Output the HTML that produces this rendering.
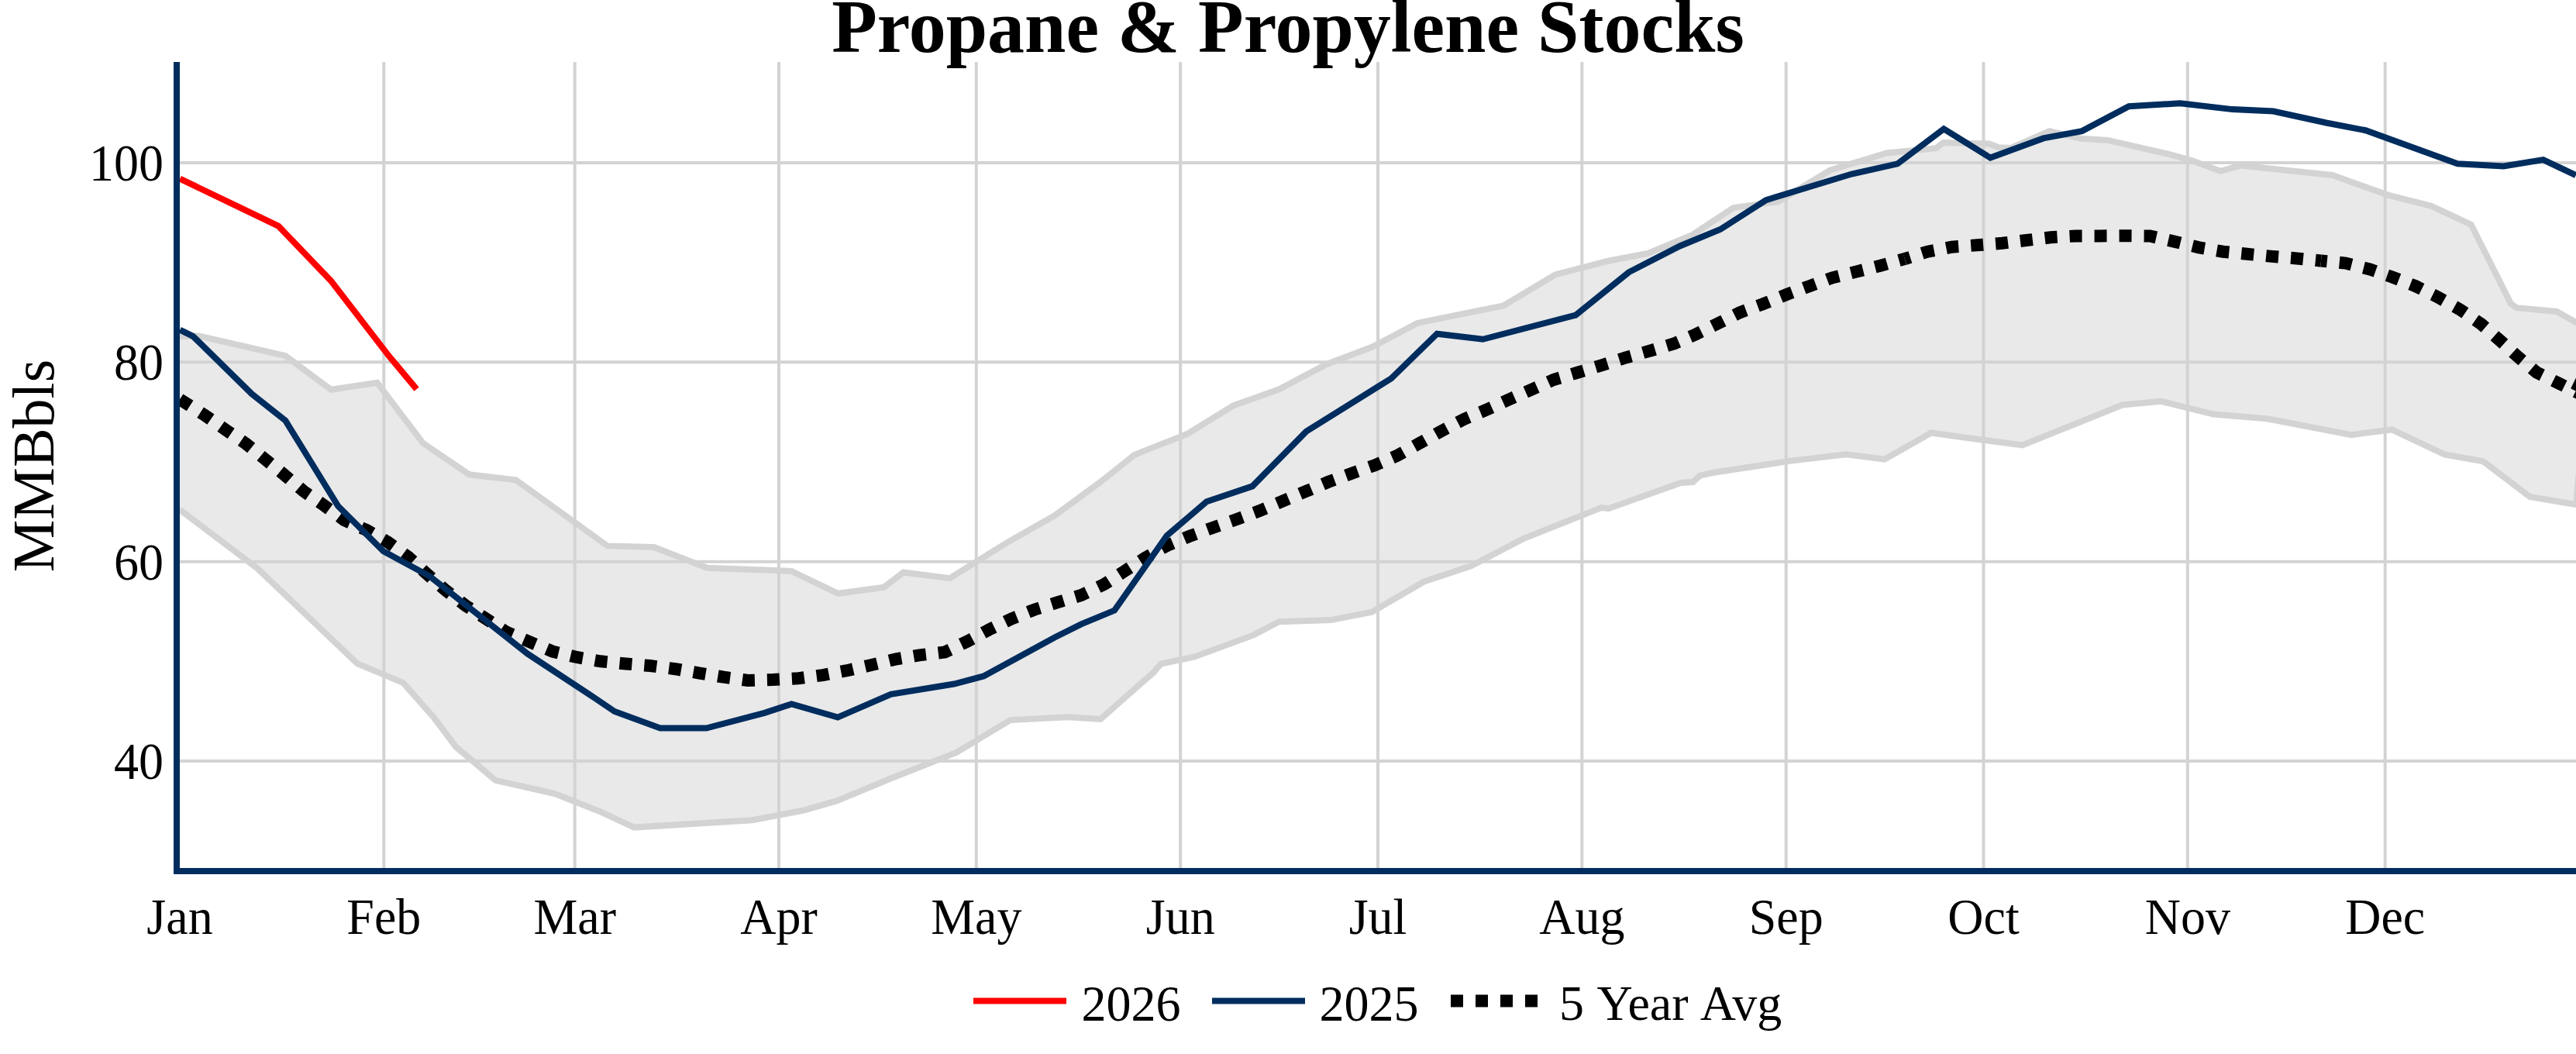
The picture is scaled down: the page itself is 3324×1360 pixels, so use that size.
<!DOCTYPE html><html><head><meta charset="utf-8"><title>Propane &amp; Propylene Stocks</title>
<style>html,body{margin:0;padding:0;background:#fff;overflow:hidden}svg{display:block}text{font-family:"Liberation Serif","Times New Roman",Times,serif;fill:#000}</style></head><body>
<svg width="3324" height="1360" viewBox="0 0 3324 1360">
<rect width="3324" height="1360" fill="#fff"/>
<defs><clipPath id="c"><rect x="232" y="80" width="3092" height="1040"/></clipPath></defs>
<g stroke="#d3d3d3" stroke-width="4"><line x1="495.3" x2="495.3" y1="80" y2="1120"/><line x1="741.7" x2="741.7" y1="80" y2="1120"/><line x1="1005.0" x2="1005.0" y1="80" y2="1120"/><line x1="1259.8" x2="1259.8" y1="80" y2="1120"/><line x1="1523.2" x2="1523.2" y1="80" y2="1120"/><line x1="1778.0" x2="1778.0" y1="80" y2="1120"/><line x1="2041.3" x2="2041.3" y1="80" y2="1120"/><line x1="2304.7" x2="2304.7" y1="80" y2="1120"/><line x1="2559.5" x2="2559.5" y1="80" y2="1120"/><line x1="2822.8" x2="2822.8" y1="80" y2="1120"/><line x1="3077.7" x2="3077.7" y1="80" y2="1120"/><line x1="232" x2="3324" y1="982.0" y2="982.0"/><line x1="232" x2="3324" y1="724.7" y2="724.7"/><line x1="232" x2="3324" y1="467.3" y2="467.3"/><line x1="232" x2="3324" y1="210.0" y2="210.0"/></g>
<g clip-path="url(#c)" fill="none" stroke-linejoin="miter" stroke-miterlimit="4">
<polygon points="232.0,434.3 257.0,433.5 368.5,459.2 427.2,502.7 486.8,493.9 546.1,572.1 605.6,612.3 665.7,619.3 783.8,704.4 843.9,706.0 912.3,732.7 1000.0,736.0 1021.2,736.9 1081.5,765.8 1140.6,757.8 1165.8,738.5 1225.6,746.2 1300.3,699.6 1360.9,665.3 1420.1,621.8 1463.8,586.9 1532.2,559.8 1591.4,523.4 1650.5,502.3 1711.2,470.2 1770.3,447.8 1829.4,416.7 1939.9,394.4 2006.8,354.5 2075.2,336.7 2126.5,327.0 2184.0,302.9 2236.9,268.0 2294.5,260.2 2361.4,219.8 2434.5,197.4 2498.3,191.2 2507.6,184.0 2566.7,185.6 2579.2,190.2 2594.7,190.9 2644.5,169.1 2685.0,178.7 2719.7,180.9 2796.8,198.5 2827.9,207.0 2865.2,220.8 2890.8,213.6 3009.7,226.0 3081.3,251.6 3137.3,265.9 3188.6,289.8 3240.0,391.9 3247.8,397.2 3299.1,401.9 3324.0,415.9 3330.0,420.0 3332.8,551.0 3324.3,651.1 3264.4,641.0 3204.2,595.2 3154.3,586.4 3086.6,554.3 3034.3,561.1 2925.4,540.2 2856.3,534.6 2788.5,517.8 2738.7,522.5 2609.6,574.5 2524.0,563.0 2491.9,558.5 2431.9,592.7 2382.1,586.2 2309.0,594.9 2211.0,609.8 2193.8,613.6 2184.5,622.0 2169.0,622.9 2075.6,656.2 2066.3,655.0 1965.1,695.4 1898.2,730.3 1837.6,750.5 1770.1,789.8 1717.2,800.1 1650.3,802.3 1617.7,819.4 1541.4,847.4 1497.9,856.7 1488.5,867.6 1420.0,928.0 1378.1,925.2 1303.7,929.1 1233.7,971.1 1151.2,1003.8 1079.6,1033.4 1036.1,1045.8 970.7,1058.3 818.3,1067.6 774.7,1047.4 715.6,1024.0 639.3,1006.9 588.0,963.4 560.0,926.0 520.3,881.1 461.2,856.3 332.0,733.3 232.0,657.7" fill="rgba(211,211,211,0.5)" stroke="none"/>
<polyline points="232.0,657.7 332.0,733.3 461.2,856.3 520.3,881.1 560.0,926.0 588.0,963.4 639.3,1006.9 715.6,1024.0 774.7,1047.4 818.3,1067.6 970.7,1058.3 1036.1,1045.8 1079.6,1033.4 1151.2,1003.8 1233.7,971.1 1303.7,929.1 1378.1,925.2 1420.0,928.0 1488.5,867.6 1497.9,856.7 1541.4,847.4 1617.7,819.4 1650.3,802.3 1717.2,800.1 1770.1,789.8 1837.6,750.5 1898.2,730.3 1965.1,695.4 2066.3,655.0 2075.6,656.2 2169.0,622.9 2184.5,622.0 2193.8,613.6 2211.0,609.8 2309.0,594.9 2382.1,586.2 2431.9,592.7 2491.9,558.5 2524.0,563.0 2609.6,574.5 2738.7,522.5 2788.5,517.8 2856.3,534.6 2925.4,540.2 3034.3,561.1 3086.6,554.3 3154.3,586.4 3204.2,595.2 3264.4,641.0 3324.3,651.1 3332.8,551.0" stroke="#d3d3d3" stroke-width="8"/>
<polyline points="232.0,434.3 257.0,433.5 368.5,459.2 427.2,502.7 486.8,493.9 546.1,572.1 605.6,612.3 665.7,619.3 783.8,704.4 843.9,706.0 912.3,732.7 1000.0,736.0 1021.2,736.9 1081.5,765.8 1140.6,757.8 1165.8,738.5 1225.6,746.2 1300.3,699.6 1360.9,665.3 1420.1,621.8 1463.8,586.9 1532.2,559.8 1591.4,523.4 1650.5,502.3 1711.2,470.2 1770.3,447.8 1829.4,416.7 1939.9,394.4 2006.8,354.5 2075.2,336.7 2126.5,327.0 2184.0,302.9 2236.9,268.0 2294.5,260.2 2361.4,219.8 2434.5,197.4 2498.3,191.2 2507.6,184.0 2566.7,185.6 2579.2,190.2 2594.7,190.9 2644.5,169.1 2685.0,178.7 2719.7,180.9 2796.8,198.5 2827.9,207.0 2865.2,220.8 2890.8,213.6 3009.7,226.0 3081.3,251.6 3137.3,265.9 3188.6,289.8 3240.0,391.9 3247.8,397.2 3299.1,401.9 3324.0,415.9 3330.0,420.0" stroke="#d3d3d3" stroke-width="8"/>
<polyline points="232.0,515.2 265.5,536.6 291.7,555.0 317.6,572.7 342.5,592.9 367.1,612.8 392.0,634.0 418.0,652.0 444.0,671.0 473.4,684.2 500.8,699.7 527.2,719.0 549.8,739.6 574.7,761.4 601.2,781.6 627.6,798.7 653.7,815.6 683.2,828.2 712.8,840.5 744.0,848.0 775.0,853.3 807.7,856.5 838.8,859.0 871.5,863.2 902.6,868.6 933.7,873.7 964.8,877.9 997.5,877.0 1030.5,875.2 1061.9,871.1 1093.0,865.2 1124.6,858.0 1155.3,850.6 1186.4,845.3 1219.2,841.5 1248.3,827.5 1276.3,812.4 1305.0,798.5 1334.5,786.7 1364.1,777.4 1395.2,768.0 1424.7,754.0 1451.2,736.9 1477.6,719.8 1505.6,704.2 1535.2,691.8 1564.8,680.9 1595.9,670.0 1625.4,659.1 1655.0,646.7 1684.6,634.2 1714.1,621.8 1743.7,610.9 1774.8,600.0 1803.0,587.8 1831.0,572.3 1859.0,556.7 1888.5,541.2 1918.1,528.7 1947.6,515.3 1977.2,502.3 2005.2,489.8 2036.3,480.5 2067.4,471.1 2098.6,461.2 2129.7,452.5 2160.8,443.1 2188.0,431.5 2216.7,417.4 2244.7,403.4 2274.3,392.5 2305.4,380.0 2334.9,369.2 2364.5,358.3 2395.6,350.5 2426.7,342.7 2457.8,334.0" stroke="#000" stroke-width="16" stroke-dasharray="16,16" stroke-dashoffset="0.40"/>
<polyline points="2457.8,334.0 2487.4,324.7 2518.5,318.7 2551.2,316.3 2583.9,313.8 2615.0,310.0 2646.1,306.3 2678.8,304.4 2709.9,304.4 2742.5,304.2 2774.2,304.5 2805.3,311.6 2836.4,319.1 2868.4,324.7 2899.6,327.8 2931.9,330.9 2963.9,333.4 2995.0,336.5" stroke="#000" stroke-width="16" stroke-dasharray="16,16" stroke-dashoffset="8.55"/>
<polyline points="2995.0,336.5 3026.8,339.6 3057.9,347.4 3087.5,357.7 3117.0,369.2 3146.0,383.5 3174.4,399.5 3201.7,418.2 3225.7,439.1 3249.0,460.3 3273.1,480.5 3301.6,494.5 3330.1,508.5 3345.0,515.8" stroke="#000" stroke-width="16" stroke-dasharray="16,16" stroke-dashoffset="8.18"/>
<rect x="-8" y="-8" width="16" height="16" fill="#000" stroke="none" transform="translate(3327.9,497.7) rotate(26.1)"/>
<polyline points="232.2,425.6 249.0,433.8 324.8,508.2 368.3,542.7 436.3,653.0 494.8,711.3 554.5,743.6 680.9,843.7 760.2,895.8 793.0,918.0 851.8,939.5 911.5,939.5 986.6,919.9 1021.4,908.4 1081.0,925.6 1149.5,895.8 1231.2,882.5 1269.3,872.4 1360.9,822.5 1395.2,805.4 1438.1,787.6 1505.6,691.2 1557.0,647.3 1616.1,627.4 1685.6,556.7 1795.2,488.3 1854.3,430.7 1913.4,437.8 2033.2,406.7 2101.7,351.3 2167.7,317.5 2219.8,296.0 2278.9,258.1 2389.4,224.5 2448.5,211.4 2508.2,166.3 2568.3,203.6 2636.8,178.4 2686.5,169.1 2747.0,137.3 2813.1,133.3 2880.7,141.1 2933.4,143.6 3001.9,158.5 3052.5,168.2 3171.2,211.2 3230.5,214.4 3281.7,206.1 3323.8,226.2" stroke="#002d5e" stroke-width="8"/>
<polyline points="232.2,230.6 359.1,291.6 427.1,362.4 501.6,459.1 537.6,502.1" stroke="#ff0000" stroke-width="8"/>
</g>
<rect x="224" y="80" width="8" height="1048" fill="#002d5e"/>
<rect x="224" y="1120" width="3100" height="8" fill="#002d5e"/>
<g font-size="64">
<text transform="translate(232.0,1204.5) scale(1,1.015)" text-anchor="middle">Jan</text>
<text transform="translate(495.3,1204.5) scale(1,1.015)" text-anchor="middle">Feb</text>
<text transform="translate(741.7,1204.5) scale(1,1.015)" text-anchor="middle">Mar</text>
<text transform="translate(1005.0,1204.5) scale(1,1.015)" text-anchor="middle">Apr</text>
<text transform="translate(1259.8,1204.5) scale(1,1.015)" text-anchor="middle">May</text>
<text transform="translate(1523.2,1204.5) scale(1,1.015)" text-anchor="middle">Jun</text>
<text transform="translate(1778.0,1204.5) scale(1,1.015)" text-anchor="middle">Jul</text>
<text transform="translate(2041.3,1204.5) scale(1,1.015)" text-anchor="middle">Aug</text>
<text transform="translate(2304.7,1204.5) scale(1,1.015)" text-anchor="middle">Sep</text>
<text transform="translate(2559.5,1204.5) scale(1,1.015)" text-anchor="middle">Oct</text>
<text transform="translate(2822.8,1204.5) scale(1,1.015)" text-anchor="middle">Nov</text>
<text transform="translate(3077.7,1204.5) scale(1,1.015)" text-anchor="middle">Dec</text>
<text transform="translate(211,1004.8) scale(1,1.045)" text-anchor="end">40</text>
<text transform="translate(211,747.5) scale(1,1.045)" text-anchor="end">60</text>
<text transform="translate(211,490.1) scale(1,1.045)" text-anchor="end">80</text>
<text transform="translate(211,232.8) scale(1,1.045)" text-anchor="end">100</text>
</g>
<text transform="translate(1662,67) scale(1,1.017)" text-anchor="middle" font-size="96" font-weight="bold">Propane &amp; Propylene Stocks</text>
<text transform="translate(68.5,601) rotate(-90)" text-anchor="middle" font-size="76">MMBbls</text>
<g font-size="64">
<line x1="1256" x2="1376" y1="1291.5" y2="1291.5" stroke="#ff0000" stroke-width="8"/>
<text transform="translate(1395.5,1316.6) scale(1,1.04)">2026</text>
<line x1="1564" x2="1684" y1="1291.5" y2="1291.5" stroke="#002d5e" stroke-width="8"/>
<text transform="translate(1702.5,1316.6) scale(1,1.04)">2025</text>
<line x1="1872" x2="1992" y1="1291.5" y2="1291.5" stroke="#000" stroke-width="16" stroke-dasharray="16,16"/>
<text y="1316.4"><tspan x="2012">5 </tspan><tspan x="2060.6">Year </tspan><tspan x="2193.8">Avg</tspan></text>
</g>
</svg></body></html>
